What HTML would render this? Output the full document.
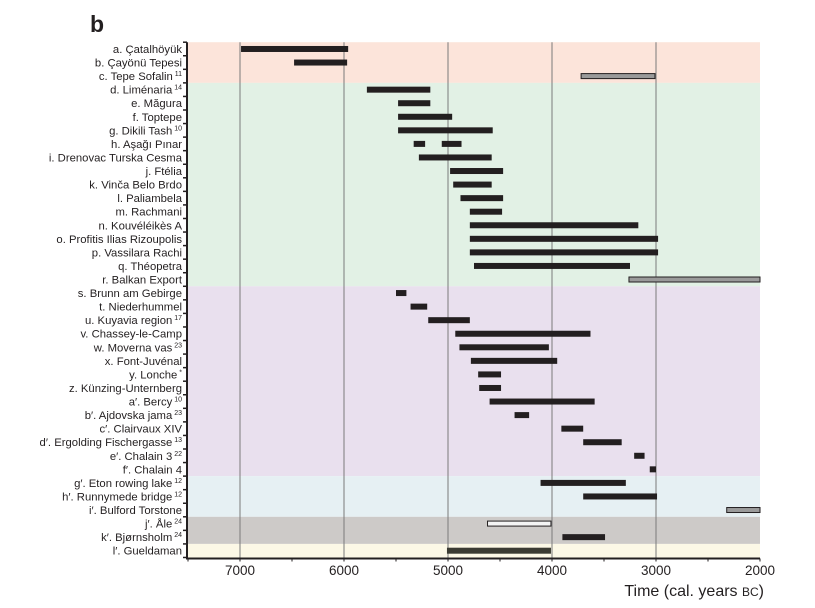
<!DOCTYPE html>
<html><head><meta charset="utf-8"><style>
body{margin:0;background:#fff;}
svg text{font-family:"Liberation Sans",sans-serif;fill:#231f20;}
</style></head><body>
<svg id="chart" width="815" height="603" xmlns="http://www.w3.org/2000/svg">
<text x="90" y="32" font-size="23" font-weight="bold">b</text>
<g id="bands"></g><g id="grid"></g><g id="bars"></g><g id="axes"></g><g id="labels"></g>
</svg>
<script>
const sites=["a. Çatalhöyük","b. Çayönü Tepesi","c. Tepe Sofalin|11","d. Liménaria|14","e. Măgura","f. Toptepe","g. Dikili Tash|10","h. Aşağı Pınar","i. Drenovac Turska Cesma","j. Ftélia","k. Vinča Belo Brdo","l. Paliambela","m. Rachmani","n. Kouvéléikès A","o. Profitis Ilias Rizoupolis","p. Vassilara Rachi","q. Théopetra","r. Balkan Export","s. Brunn am Gebirge","t. Niederhummel","u. Kuyavia region|17","v. Chassey-le-Camp","w. Moverna vas|23","x. Font-Juvénal","y. Lonche|*","z. Künzing-Unternberg","a′. Bercy|10","b′. Ajdovska jama|23","c′. Clairvaux XIV","d′. Ergolding Fischergasse|13","e′. Chalain 3|22","f′. Chalain 4","g′. Eton rowing lake|12","h′. Runnymede bridge|12","i′. Bulford Torstone","j′. Åle|24","k′. Bjørnsholm|24","l′. Gueldaman"];
// [row, start, end, style]
const spans=[[0,6990,5960,"b"],[1,6480,5970,"b"],[2,3720,3010,"g"],[3,5780,5170,"b"],[4,5480,5170,"b"],[5,5480,4960,"b"],[6,5480,4570,"b"],[7,5330,5220,"b"],[7,5060,4870,"b"],[8,5280,4580,"b"],[9,4980,4470,"b"],[10,4950,4580,"b"],[11,4880,4470,"b"],[12,4790,4480,"b"],[13,4790,3170,"b"],[14,4790,2980,"b"],[15,4790,2980,"b"],[16,4750,3250,"b"],[17,3260,2000,"g"],[18,5500,5400,"b"],[19,5360,5200,"b"],[20,5190,4790,"b"],[21,4930,3630,"b"],[22,4890,4030,"b"],[23,4780,3950,"b"],[24,4710,4490,"b"],[25,4700,4490,"b"],[26,4600,3590,"b"],[27,4360,4220,"b"],[28,3910,3700,"b"],[29,3700,3330,"b"],[30,3210,3110,"b"],[31,3060,3000,"b"],[32,4110,3290,"b"],[33,3700,2990,"b"],[34,2320,2000,"g"],[35,4620,4010,"w"],[36,3900,3490,"b"],[37,5010,4010,"o"]];
const bandRows=[[0,3,"#fce4da"],[3,18,"#e2f1e5"],[18,32,"#e9e0ee"],[32,35,"#e6f0f3"],[35,37,"#cdcac8"],[37,38,"#fcf8e6"]];
const ticks=[7000,6000,5000,4000,3000,2000];
const NS="http://www.w3.org/2000/svg";
const x=v=>240+(7000-v)*0.104;
const top0=42.2,rh=13.56;
const y=r=>top0+r*rh;
function mk(p,t,a){const e=document.createElementNS(NS,t);for(const k in a)e.setAttribute(k,a[k]);document.getElementById(p).appendChild(e);return e;}
bandRows.forEach(b=>{const e=mk("bands","rect",{x:188,y:y(b[0]),width:x(2000)-188,height:(b[1]-b[0])*rh,fill:b[2]});

});
[7000,6000,5000,4000,3000].forEach(t=>{const e=mk("grid","line",{x1:x(t),x2:x(t),y1:top0,y2:y(38),stroke:"#7a7a7a","stroke-width":1});

});
spans.forEach(s=>{const cy=y(s[0])+rh/2;const x1=x(s[1]),x2=x(s[2]);let a={x:x1,y:cy-3,width:x2-x1,height:6,fill:"#231f20"};
if(s[3]=="g"){a.fill="#9a9a9a";a.stroke="#231f20";a["stroke-width"]=1;a.y=cy-2.5;a.height=5;}
if(s[3]=="w"){a.fill="#f4f4f4";a.stroke="#231f20";a["stroke-width"]=1;a.y=cy-2.5;a.height=5;}
if(s[3]=="o"){a.fill="#3b3b32";}
const e=mk("bars","rect",a);

});
mk("axes","line",{x1:187,x2:187,y1:top0,y2:y(38)+1,stroke:"#231f20","stroke-width":2});
mk("axes","line",{x1:186,x2:x(2000),y1:y(38)+1,y2:y(38)+1,stroke:"#231f20","stroke-width":2});
for(let r=0;r<=38;r++)mk("axes","line",{x1:183,x2:187,y1:y(r),y2:y(r),stroke:"#231f20","stroke-width":1.5});
for(let t=7500;t>=2000;t-=500)mk("axes","line",{x1:x(t),x2:x(t),y1:y(38)+1,y2:y(38)+4,stroke:"#231f20","stroke-width":1});
ticks.forEach(t=>{const e=mk("axes","text",{x:x(t),y:575,"font-size":13.5,"text-anchor":"middle"});e.textContent=t;

});
const tl=mk("axes","text",{x:764,y:596,"font-size":16,"text-anchor":"end"});
tl.innerHTML='Time (cal. years <tspan font-size="12">BC</tspan>)';


sites.forEach((s,i)=>{const [n,sup]=s.split("|");const e=mk("labels","text",{x:182,y:y(i)+rh/2+4,"font-size":11.3,"text-anchor":"end"});
e.innerHTML=n+(sup?'<tspan font-size="7" dy="-4"> '+sup+'</tspan>':'');

});
</script>
</body></html>
